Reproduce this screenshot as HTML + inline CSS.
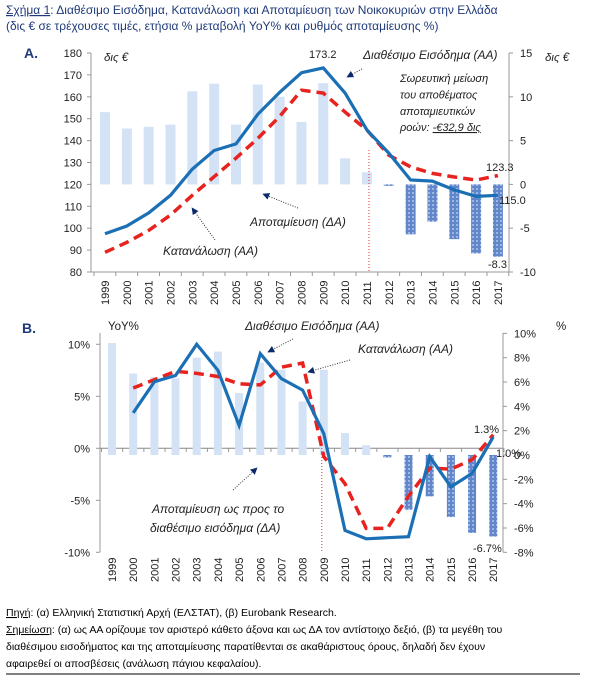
<!DOCTYPE html>
<html><head><meta charset="utf-8"><style>
html,body{margin:0;padding:0;background:#fff;}
svg{display:block;font-family:"Liberation Sans","DejaVu Sans",sans-serif;}
.it{font-style:italic;}
</style></head><body>
<svg id="s" width="601" height="679" viewBox="0 0 601 679" xmlns="http://www.w3.org/2000/svg">
<defs>
<marker id="ah" viewBox="0 0 10 10" refX="9" refY="5" markerWidth="7" markerHeight="7" orient="auto"><path d="M0,0 L10,5 L0,10 z" fill="#0b2a6a"/></marker>
<pattern id="dk" width="4" height="4" patternUnits="userSpaceOnUse"><rect width="4" height="4" fill="#6286ca"/><rect x="0" y="0" width="2" height="2" fill="#9db6e2"/></pattern>
</defs>
<text x="6" y="14" font-size="12" fill="#1f3a7a"><tspan text-decoration="underline">Σχήμα 1</tspan>: Διαθέσιμο Εισόδημα, Κατανάλωση και Αποταμίευση των Νοικοκυριών στην Ελλάδα</text>
<text x="6" y="30" font-size="12" fill="#1f3a7a">(δις € σε τρέχουσες τιμές, ετήσια % μεταβολή YoY% και ρυθμός αποταμίευσης %)</text>
<text x="24" y="58" font-size="14" font-weight="bold" fill="#1f3a7a">A.</text>
<text x="22" y="333" font-size="14" font-weight="bold" fill="#1f3a7a">B.</text>
<g id="g"></g>
<text x="6" y="616" font-size="10.5" fill="#000"><tspan text-decoration="underline">Πηγή</tspan>: (α) Ελληνική Στατιστική Αρχή (ΕΛΣΤΑΤ), (β) Eurobank Research.</text>
<text x="6" y="633" font-size="10.5" fill="#000"><tspan text-decoration="underline">Σημείωση</tspan>: (α) ως ΑΑ ορίζουμε τον αριστερό κάθετο άξονα και ως ΔΑ τον αντίστοιχο δεξιό, (β) τα μεγέθη του</text>
<text x="6" y="650" font-size="10.5" fill="#000">διαθέσιμου εισοδήματος και της αποταμίευσης παρατίθενται σε ακαθάριστους όρους, δηλαδή δεν έχουν</text>
<text x="6" y="667" font-size="10.5" fill="#000">αφαιρεθεί οι αποσβέσεις (ανάλωση πάγιου κεφαλαίου).</text>
<line x1="6" y1="674" x2="580" y2="674" stroke="#000" stroke-width="1"/>
</svg>
<script>
var g=document.getElementById('g'),h='';
function el(s){h+=s;}
function line(x1,y1,x2,y2,st){el('<line x1="'+x1+'" y1="'+y1+'" x2="'+x2+'" y2="'+y2+'" '+st+'/>');}
function txt(x,y,t,st){el('<text x="'+x+'" y="'+y+'" '+st+'>'+t+'</text>');}
function poly(pts,st){el('<polyline fill="none" points="'+pts.map(function(p){return p[0].toFixed(1)+','+p[1].toFixed(1)}).join(' ')+'" '+st+'/>');}
var yrs=[];for(var i=1999;i<=2017;i++)yrs.push(i);
var ax=function(i){return 105+i*21.83;};
var ayL=function(v){return 53+(180-v)*2.19;};
var ayR=function(v){return 184.4-v*8.76;};
line(91,53,91,272,'stroke="#999"');line(91,272,509,272,'stroke="#999"');line(509,53,509,272,'stroke="#999"');
for(var v=80;v<=180;v+=10){var y=ayL(v);line(87,y,91,y,'stroke="#999"');txt(82,y+4,v,'font-size="11" text-anchor="end" fill="#222"');}
for(var v=-10;v<=15;v+=5){var y=ayR(v);line(509,y,513,y,'stroke="#999"');txt(520,y+4,v,'font-size="11" fill="#222"');}
for(var i=0;i<=19;i++){var x=94+i*21.83;line(x,272,x,276,'stroke="#999"');}
var barsA=[153,145.5,146.3,147.3,162.5,166,147.3,165.6,160,148.5,166.2,131.9,125.5,119.3,97.2,103,95,88.5,87];
barsA.forEach(function(b,i){var x=ax(i)-5,y0=ayL(120),y1=ayL(b);
 var neg=b<120;el('<rect x="'+x+'" y="'+Math.min(y0,y1)+'" width="10" height="'+Math.abs(y1-y0)+'" fill="'+(neg?'url(#dk)':'#d3e2f5')+'"/>');});
line(ax(12)+2,150,ax(12)+2,272,'stroke="#e03030" stroke-width="1" stroke-dasharray="1,2"');
var incA=[97.5,101,107,115,127,135.5,138.5,152,162,171,173.2,161.7,144.8,134.3,122,121.5,117.5,114.5,115];
var conA=[89,93.5,99,106,115,123.5,132,141,151,163,161.7,153,144.8,133.4,128,125,123.4,122,124];
poly(conA.map(function(v,i){return[ax(i),ayL(v)]}),'stroke="#e8231f" stroke-width="3.5" stroke-dasharray="10,6"');
poly(incA.map(function(v,i){return[ax(i),ayL(v)]}),'stroke="#1a6fb5" stroke-width="3.2"');
yrs.forEach(function(y,i){var x=ax(i)+4;txt(x,305,y,'font-size="11" fill="#222" transform="rotate(-90 '+x+' 305)"');});
txt(104,61,'δις €','font-size="11.5" class="it" fill="#222"');
txt(545,61,'δις €','font-size="11.5" class="it" fill="#222"');
txt(309,58,'173.2','font-size="11" fill="#222"');
txt(363,59,'Διαθέσιμο Εισόδημα (ΑΑ)','font-size="12" class="it" fill="#222"');
line(362,69,347,77,'stroke="#333" stroke-dasharray="1,1.5" marker-end="url(#ah)"');
['Σωρευτική μείωση','του αποθέματος','αποταμιευτικών'].forEach(function(t,k){txt(400,82+k*16.5,t,'font-size="11" class="it" fill="#222"');});
txt(400,131,'ροών: <tspan text-decoration="underline">-€32,9 δις</tspan>','font-size="11" class="it" fill="#222"');
txt(250,226,'Αποταμίευση (ΔΑ)','font-size="12" class="it" fill="#222"');
line(298,208,263,194,'stroke="#333" stroke-dasharray="1,1.5" marker-end="url(#ah)"');
txt(163,255,'Κατανάλωση (ΑΑ)','font-size="12" class="it" fill="#222"');
line(215,240,192,208,'stroke="#333" stroke-dasharray="1,1.5" marker-end="url(#ah)"');
txt(486,171,'123.3','font-size="11" fill="#222"');
txt(499,204,'115.0','font-size="11" fill="#222"');
txt(488,268,'-8.3','font-size="11" fill="#222"');
var bx=function(i){return 112+i*21.18;};
var byL=function(v){return 448.3-v*10.4;};
var byR=function(v){return 455-v*12.165;};
line(100,333,100,552,'stroke="#999"');line(503,333,503,552,'stroke="#999"');line(100,448.3,503,448.3,'stroke="#888"');
[10,5,0,-5,-10].forEach(function(v){var y=byL(v);line(96,y,100,y,'stroke="#999"');txt(90,y+4,v+'%','font-size="11" text-anchor="end" fill="#222"');});
for(var v=-8;v<=10;v+=2){var y=byR(v);line(503,y,507,y,'stroke="#999"');txt(514,y+4,v+'%','font-size="11" fill="#222"');}
for(var i=0;i<=19;i++){var x=101.5+i*21.18;line(x,448.3,x,452,'stroke="#999"');}
var barsB=[9.2,6.7,6.4,6.3,8.0,8.5,5.1,7.6,7.0,4.4,7.0,1.8,0.8,-0.2,-4.5,-3.4,-5.1,-6.4,-6.7];
barsB.forEach(function(b,i){var x=bx(i)-4,y0=byR(0),y1=byR(b);
 el('<rect x="'+x+'" y="'+Math.min(y0,y1)+'" width="8" height="'+Math.max(1,Math.abs(y1-y0))+'" fill="'+(b<0?'url(#dk)':'#d3e2f5')+'"/>');});
line(bx(10)-2,448,bx(10)-2,552,'stroke="#e03030" stroke-width="1" stroke-dasharray="1,2"');
var incB=[null,3.4,6.4,7.0,10,7.5,2.2,9.1,6.7,5.6,1.4,-7.9,-8.7,-8.6,-8.5,-0.8,-3.7,-2.4,1.1];
var conB=[null,5.8,6.6,7.4,7.2,6.9,6.2,6.1,7.8,8.2,-0.8,-3.4,-7.7,-7.7,-4.6,-1.9,-2.0,-1.1,1.3];
poly(conB.slice(1).map(function(v,i){return[bx(i+1),byL(v)]}),'stroke="#e8231f" stroke-width="3.5" stroke-dasharray="10,6"');
poly(incB.slice(1).map(function(v,i){return[bx(i+1),byL(v)]}),'stroke="#1a6fb5" stroke-width="3.2"');
yrs.forEach(function(y,i){var x=bx(i)+4;txt(x,582,y,'font-size="11" fill="#222" transform="rotate(-90 '+x+' 582)"');});
txt(108,330,'YoY%','font-size="11.5" fill="#222"');
txt(556,330,'%','font-size="11.5" fill="#222"');
txt(245,330,'Διαθέσιμο Εισόδημα (ΑΑ)','font-size="12" class="it" fill="#222"');
line(293,339,268,352,'stroke="#333" stroke-dasharray="1,1.5" marker-end="url(#ah)"');
txt(358,353,'Κατανάλωση (ΑΑ)','font-size="12" class="it" fill="#222"');
line(350,360,308,372,'stroke="#333" stroke-dasharray="1,1.5" marker-end="url(#ah)"');
txt(152,513,'Αποταμίευση ως προς το','font-size="12" class="it" fill="#222"');
txt(150,532,'διαθέσιμο εισόδημα (ΔΑ)','font-size="12" class="it" fill="#222"');
line(233,490,257,468,'stroke="#333" stroke-dasharray="1,1.5" marker-end="url(#ah)"');
txt(474,433,'1.3%','font-size="11" fill="#222"');
txt(496,457,'1.0%','font-size="11" fill="#222"');
txt(473,552,'-6.7%','font-size="11" fill="#222"');
g.innerHTML=h;
</script>
</body></html>
